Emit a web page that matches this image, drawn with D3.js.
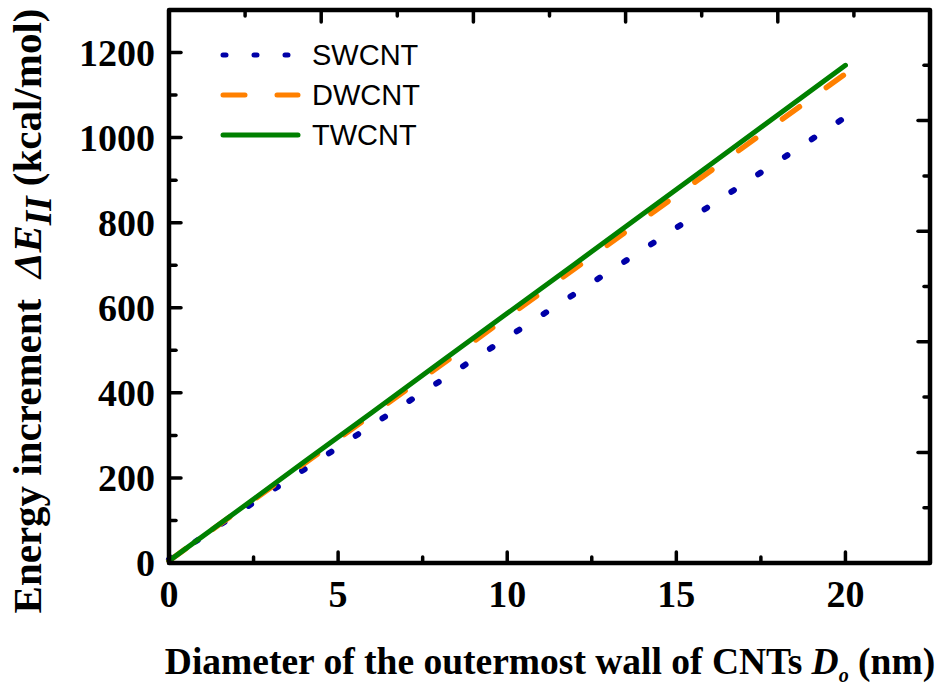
<!DOCTYPE html>
<html>
<head>
<meta charset="utf-8">
<script src="https://cdn.jsdelivr.net/npm/d3@7"></script>
<style>
  body { margin: 0; background: #fff; }
  svg { display: block; }
</style>
</head>
<body>
<script>
// diameter of outermost wall (nm)
var diameters = [0, 2, 4, 6, 8, 10, 12, 14, 16, 18, 20];
// energy increment (kcal/mol)
var swcnt = [8, 116, 220, 324, 427, 530, 633, 736, 840, 944, 1048];
var dwcnt = [5, 120, 234, 349, 463, 578, 692, 807, 921, 1036, 1150];
var twcnt = [5, 121, 238, 354, 471, 587, 703, 820, 936, 1053, 1170];

var seriesNames = ["SWCNT", "DWCNT", "TWCNT"];
var seriesValues = [swcnt, dwcnt, twcnt];

var xTicks = [0, 5, 10, 15, 20];
var xMinor = [2.5, 7.5, 12.5, 17.5];
var yTicks = [0, 200, 400, 600, 800, 1000, 1200];
var yMinor = [100, 300, 500, 700, 900, 1100];
// top / right mirror axes use their own 5 divisions
var mirrorMajor = [1, 2, 3, 4];
var mirrorMinor = [0.5, 1.5, 2.5, 3.5, 4.5];

var w = 940, h = 689;
var margin = { top: 10, right: 10, bottom: 126, left: 169 };
var pw = w - margin.left - margin.right;
var ph = h - margin.top - margin.bottom;

var svg = d3.select("body").append("svg")
    .attr("width", w)
    .attr("height", h);

svg.append("rect").attr("width", w).attr("height", h).attr("fill", "#fff");

var g = svg.append("g")
    .attr("transform", "translate(" + margin.left + "," + margin.top + ")");

var x = d3.scaleLinear().domain([0, 22.5]).range([0, pw]);
var y = d3.scaleLinear().domain([0, 1300]).range([ph, 0]);
var xTop = d3.scaleLinear().domain([0, 5]).range([0, pw]);
var yRight = d3.scaleLinear().domain([0, 5]).range([ph, 0]);

var styles = [
    { color: "#0000a8", dash: "3,29", width: 6 },
    { color: "#ff8000", dash: "21,33", width: 5.5 },
    { color: "#008000", dash: null, width: 5 }
];

// lines
var line = d3.line()
    .x(function (d) { return x(d[0]); })
    .y(function (d) { return y(d[1]); });

seriesValues.forEach(function (vals, i) {
    var pts = diameters.map(function (d, j) { return [d, vals[j]]; });
    g.append("path")
        .datum(pts)
        .attr("d", line)
        .attr("fill", "none")
        .attr("stroke", styles[i].color)
        .attr("stroke-width", styles[i].width)
        .attr("stroke-linecap", "round")
        .attr("stroke-dasharray", styles[i].dash);
});

// ticks (inward)
function tickLines(values, scale, orient, len) {
    g.selectAll(null)
        .data(values)
        .enter().append("line")
        .attr("x1", function (d) {
            if (orient === "bottom" || orient === "top") return scale(d);
            return orient === "left" ? 0 : pw;
        })
        .attr("x2", function (d) {
            if (orient === "bottom" || orient === "top") return scale(d);
            return orient === "left" ? len : pw - len;
        })
        .attr("y1", function (d) {
            if (orient === "left" || orient === "right") return scale(d);
            return orient === "bottom" ? ph : 0;
        })
        .attr("y2", function (d) {
            if (orient === "left" || orient === "right") return scale(d);
            return orient === "bottom" ? ph - len : len;
        })
        .attr("stroke", "#000")
        .attr("stroke-width", 3.5)
        .attr("stroke-linecap", "round");
}
tickLines(xTicks, x, "bottom", 11);
tickLines(xMinor, x, "bottom", 6);
tickLines(yTicks, y, "left", 12);
tickLines(yMinor, y, "left", 7);
tickLines(mirrorMajor, xTop, "top", 12);
tickLines(mirrorMinor, xTop, "top", 6);
tickLines(mirrorMajor, yRight, "right", 12);
tickLines(mirrorMinor, yRight, "right", 6);

// frame
g.append("rect")
    .attr("width", pw)
    .attr("height", ph)
    .attr("fill", "none")
    .attr("stroke", "#000")
    .attr("stroke-width", 4.5)
    .attr("stroke-linejoin", "round");

// tick labels
var serif = "'Liberation Serif', 'Times New Roman', serif";
g.selectAll(null)
    .data(xTicks)
    .enter().append("text")
    .attr("x", function (d) { return x(d); })
    .attr("y", ph + 44)
    .attr("text-anchor", "middle")
    .style("font-family", serif)
    .style("font-weight", "bold")
    .style("font-size", "38px")
    .text(function (d) { return d; });

g.selectAll(null)
    .data(yTicks)
    .enter().append("text")
    .attr("x", -14)
    .attr("y", function (d) { return y(d); })
    .attr("dy", "0.35em")
    .attr("text-anchor", "end")
    .style("font-family", serif)
    .style("font-weight", "bold")
    .style("font-size", "38px")
    .text(function (d) { return d; });

// x axis title
var xt = svg.append("text")
    .attr("x", 550)
    .attr("y", 674)
    .attr("text-anchor", "middle")
    .style("font-family", serif)
    .style("font-weight", "bold")
    .style("font-size", "37.5px");
xt.append("tspan").text("Diameter of the outermost wall of CNTs ");
xt.append("tspan").style("font-style", "italic").text("D");
xt.append("tspan").attr("dy", 8).style("font-style", "italic").style("font-size", "20px").text("o");
xt.append("tspan").attr("dy", -8).text(" (nm)");

// y axis title
var yt = svg.append("text")
    .attr("transform", "translate(41," + 311 + ") rotate(-90)")
    .attr("text-anchor", "middle")
    .style("font-family", serif)
    .style("font-weight", "bold")
    .style("font-size", "41px");
yt.append("tspan").text("Energy increment\u00a0\u00a0");
yt.append("tspan").style("font-style", "italic").text("\u0394E");
yt.append("tspan").attr("dy", 10).style("font-style", "italic").style("font-size", "37px").text("II");
yt.append("tspan").attr("dy", -10).text(" (kcal/mol)");

// legend
var legend = g.selectAll(".legend")
    .data(seriesNames)
    .enter().append("g")
    .attr("class", "legend")
    .attr("transform", function (d, i) {
        return "translate(53," + (45 + i * 40) + ")";
    });

legend.append("line")
    .attr("x1", 1)
    .attr("x2", 76)
    .attr("stroke", function (d, i) { return styles[i].color; })
    .attr("stroke-width", 5)
    .attr("stroke-linecap", "round")
    .attr("stroke-dasharray", function (d, i) {
        return i === 0 ? "3,28" : (i === 1 ? "22,32" : null);
    });

legend.append("text")
    .attr("x", 90)
    .attr("dy", "0.36em")
    .style("font-family", "'Liberation Sans', Arial, sans-serif")
    .style("font-size", "29px")
    .text(function (d) { return d; });
</script>
</body>
</html>
